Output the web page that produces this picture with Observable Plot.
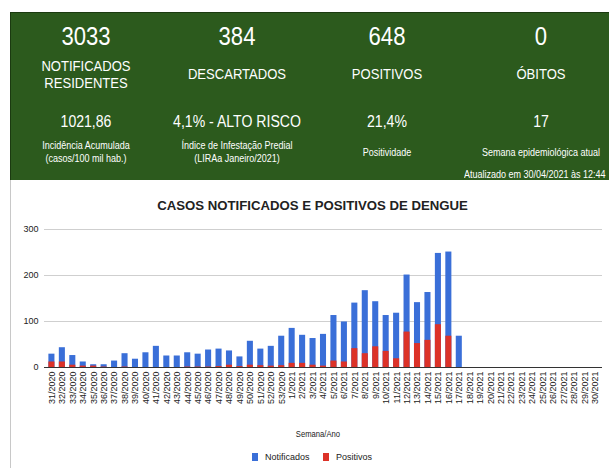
<!DOCTYPE html>
<html>
<head>
<meta charset="utf-8">
<script src="https://cdn.jsdelivr.net/npm/d3@7"></script>
<script src="https://cdn.jsdelivr.net/npm/@observablehq/plot@0.6"></script>
<style>
  html, body { margin: 0; padding: 0; background: #fff; }
  body { width: 609px; height: 468px; overflow: hidden; position: relative; font-family: "Liberation Sans", Arial, sans-serif; }
  #box { position: absolute; left: 10px; top: 12px; width: 610px; height: 168px; background: #2c5a1d; border-top: 1px solid #1b3a10; border-left: 1px solid #1b3a10; box-sizing: border-box; overflow: hidden; }
  .t { position: absolute; width: 300px; text-align: center; color: #fff; white-space: nowrap; }
  #leftline { position: absolute; left: 10px; top: 180px; width: 1px; height: 288px; background: #c8c8c8; }
  #title { position: absolute; left: 8px; width: 609px; top: 198px; text-align: center; font-weight: bold; font-size: 13.2px; color: #222; }
  #chart { position: absolute; left: 0; top: 215px; }
  #xlabel { position: absolute; left: 168px; width: 300px; top: 429px; text-align: center; font-size: 9px; color: #222; transform: scaleX(0.85); }
  #legend { position: absolute; top: 452px; left: 0; width: 609px; font-size: 9px; color: #222; }
  .sw { position: absolute; top: 1px; width: 6px; height: 8px; }
  .lt { position: absolute; top: 0; line-height: 10px; }
</style>
</head>
<body>
<div id="box"></div>
<div id="leftline"></div>
<div id="title"></div>
<div id="chart"></div>
<div id="xlabel"></div>
<div id="legend"></div>
<script>
// ---- Header data ----
const headerValues = ["3033", "384", "648", "0"];
const headerLabels = [["NOTIFICADOS", "RESIDENTES"], ["DESCARTADOS"], ["POSITIVOS"], ["ÓBITOS"]];
const indicatorValues = ["1021,86", "4,1% - ALTO RISCO", "21,4%", "17"];
const indicatorLabels = [["Incidência Acumulada", "(casos/100 mil hab.)"], ["Índice de Infestação Predial", "(LIRAa Janeiro/2021)"], ["Positividade"], ["Semana epidemiológica atual"]];
const updatedText = "Atualizado em 30/04/2021 às 12:44";

// ---- Chart data ----
const chartTitle = "CASOS NOTIFICADOS E POSITIVOS DE DENGUE";
const weeks = [
  "31/2020","32/2020","33/2020","34/2020","35/2020","36/2020","37/2020","38/2020","39/2020","40/2020",
  "41/2020","42/2020","43/2020","44/2020","45/2020","46/2020","47/2020","48/2020","49/2020","50/2020",
  "51/2020","52/2020","53/2020",
  "1/2021","2/2021","3/2021","4/2021","5/2021","6/2021","7/2021","8/2021","9/2021","10/2021",
  "11/2021","12/2021","13/2021","14/2021","15/2021","16/2021","17/2021","18/2021","19/2021","20/2021",
  "21/2021","22/2021","23/2021","24/2021","25/2021","26/2021","27/2021","28/2021","29/2021","30/2021"
];
const notificados = [
  29, 43, 26, 12, 6, 6, 14, 30, 18, 32,
  46, 25, 25, 32, 29, 38, 40, 36, 23, 57,
  40, 46, 68,
  85, 70, 63, 72, 113, 99, 140, 167, 143, 113,
  118, 201, 141, 163, 248, 251, 68, 0, 0, 0,
  0, 0, 0, 0, 0, 0, 0, 0, 0, 0
];
const positivos = [
  12, 12, 5, 3, 3, 1, 0, 1, 0, 0,
  0, 0, 0, 1, 1, 1, 2, 5, 2, 5,
  4, 3, 4,
  9, 9, 5, 3, 14, 12, 41, 30, 45, 35,
  19, 77, 52, 59, 93, 68, 0, 0, 0, 0,
  0, 0, 0, 0, 0, 0, 0, 0, 0, 0
];
const seriesNames = ["Notificados", "Positivos"];
const seriesColors = ["#3a6fd8", "#dc3228"];
const yTicks = [0, 100, 200, 300];
const xLabel = "Semana/Ano";

// ---- Header layout ----
const box = document.getElementById("box");
const colX = [85, 236, 386, 540];
function addText(txt, cx, cy, size, scale) {
  const d = document.createElement("div");
  d.className = "t";
  d.textContent = txt;
  const lh = Math.round(size * 1.15);
  d.style.left = (cx - 10 - 150) + "px";
  d.style.top = (cy - 12 - lh / 2) + "px";
  d.style.fontSize = size + "px";
  d.style.lineHeight = lh + "px";
  d.style.transform = "scaleX(" + scale + ")";
  box.appendChild(d);
}
headerValues.forEach((v, i) => addText(v, colX[i], 35, 26, 0.85));
headerLabels.forEach((lines, i) => {
  if (lines.length === 2) {
    addText(lines[0], colX[i], 64, 15, 0.87);
    addText(lines[1], colX[i], 81.5, 15, 0.87);
  } else addText(lines[0], colX[i], 72.5, 15, 0.87);
});
indicatorValues.forEach((v, i) => addText(v, colX[i], 121, 16, 0.88));
indicatorLabels.forEach((lines, i) => {
  if (lines.length === 2) {
    addText(lines[0], colX[i], 145, 10, 0.9);
    addText(lines[1], colX[i], 157.5, 10, 0.9);
  } else addText(lines[0], colX[i], 152, 10, 0.9);
});
{
  const d = document.createElement("div");
  d.className = "t";
  d.textContent = updatedText;
  d.style.left = (463 - 10) + "px";
  d.style.width = "auto";
  d.style.textAlign = "left";
  d.style.top = (174 - 12 - 6) + "px";
  d.style.fontSize = "10px";
  d.style.lineHeight = "12px";
  d.style.transform = "scaleX(0.9)";
  d.style.transformOrigin = "left center";
  box.appendChild(d);
}
document.getElementById("title").textContent = chartTitle;
document.getElementById("xlabel").textContent = xLabel;

// ---- Chart ----
const table = weeks.map((w, i) => ({week: w, notificados: notificados[i], positivos: positivos[i]}));
const chart = Plot.plot({
  width: 609,
  height: 195,
  marginTop: 14,
  marginBottom: 43,
  marginLeft: 44,
  marginRight: 7,
  style: {fontFamily: "'Liberation Sans', Arial, sans-serif", fontSize: "9px", color: "#222", background: "transparent", overflow: "visible"},
  x: {domain: weeks, padding: 0.42, round: false, label: null},
  y: {domain: [0, 300], label: null},
  marks: [
    Plot.gridY(yTicks.slice(1), {stroke: "#cfcfcf", strokeOpacity: 1}),
    Plot.barY(table, {x: "week", y: "notificados", fill: seriesColors[0]}),
    Plot.barY(table, {x: "week", y: "positivos", fill: seriesColors[1]}),
    Plot.ruleY([0], {stroke: "#333", strokeWidth: 1.2}),
    Plot.axisY({ticks: yTicks, tickSize: 0, tickPadding: 6, label: null}),
    Plot.axisX({tickRotate: -90, tickSize: 0, tickPadding: 4, label: null})
  ]
});
document.getElementById("chart").appendChild(chart);

// ---- Legend ----
const legend = document.getElementById("legend");
const legendPos = [{sw: 252, tx: 265}, {sw: 323, tx: 336}];
seriesNames.forEach((name, i) => {
  const s = document.createElement("div");
  s.className = "sw";
  s.style.left = legendPos[i].sw + "px";
  s.style.background = seriesColors[i];
  legend.appendChild(s);
  const t = document.createElement("div");
  t.className = "lt";
  t.style.left = legendPos[i].tx + "px";
  t.textContent = name;
  legend.appendChild(t);
});
</script>
</body>
</html>
